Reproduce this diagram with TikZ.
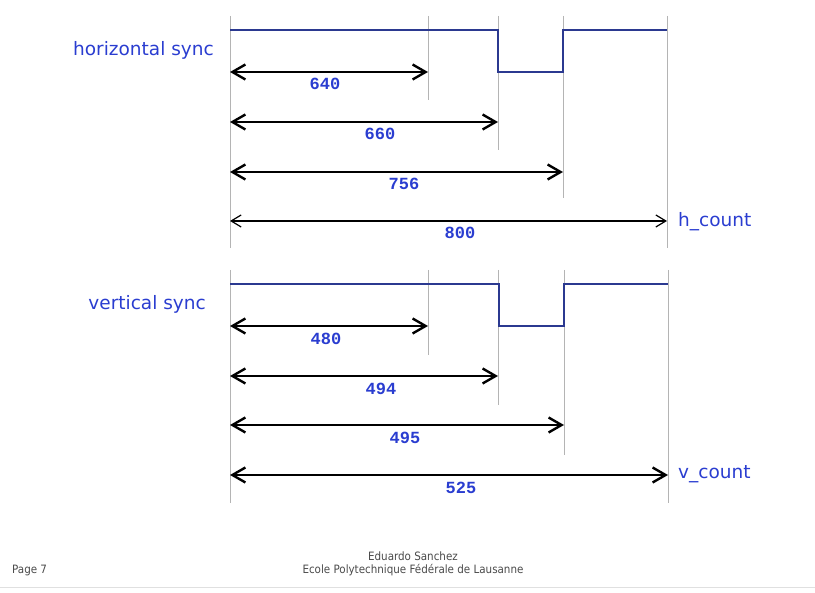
\documentclass[tikz,border=0pt]{standalone}
\usepackage{fontspec}
\setmainfont{DejaVu Sans}
\newfontfamily\numfont{Liberation Mono}
\newfontfamily\footfont{DejaVu Sans Condensed}
\usetikzlibrary{arrows.meta}
\definecolor{sig}{HTML}{2B3990}
\definecolor{lbl}{HTML}{2A3DD0}
\definecolor{grid}{HTML}{B4B4B4}
\definecolor{foot}{HTML}{4A4A4A}
\tikzset{
  guide/.style={draw=grid, line width=1pt},
  signal/.style={draw=sig, line width=2.2pt},
  dimarrow/.style={draw=black, line width=2.6pt, {Straight Barb[length=13pt,width=15pt,line width=2.4pt]}-{Straight Barb[length=13pt,width=15pt,line width=2.4pt]}},
  thindim/.style={draw=black, line width=1.2pt, {Straight Barb[length=10pt,width=12pt,line width=1.2pt]}-{Straight Barb[length=10pt,width=12pt,line width=1.2pt]}},
  numlabel/.style={text=lbl, font=\numfont\bfseries\fontsize{17}{17}\selectfont, inner sep=0pt},
  siglabel/.style={text=lbl, font=\fontsize{18.5}{18.5}\selectfont, inner sep=0pt},
  footer/.style={text=foot, font=\footfont\fontsize{11.5}{13.5}\selectfont, inner sep=0pt, align=center}
}
\begin{document}
\begin{tikzpicture}[x=1pt,y=-1pt]
\useasboundingbox (0,0) rectangle (815,593);
% ---------- horizontal ----------
\coordinate (h0t) at (230,16); \coordinate (h0b) at (230,248);
\coordinate (h1t) at (428,16); \coordinate (h1b) at (428,100);
\coordinate (h2t) at (498,16); \coordinate (h2b) at (498,150);
\coordinate (h3t) at (563,16); \coordinate (h3b) at (563,198);
\coordinate (h4t) at (667,16); \coordinate (h4b) at (667,248);
\foreach \i in {0,...,4} \draw[guide] (h\i t) -- (h\i b);
\draw[signal] (230,30) -- (498,30) -- (498,72) -- (563,72) -- (563,30) -- (667,30);
\coordinate (ha1) at (230,72);  \coordinate (hb1) at (428,72);
\coordinate (ha2) at (230,122); \coordinate (hb2) at (498,122);
\coordinate (ha3) at (230,172); \coordinate (hb3) at (563,172);
\coordinate (ha4) at (230,221); \coordinate (hb4) at (667,221);
\draw[dimarrow] (ha1) -- (hb1);
\draw[dimarrow] (ha2) -- (hb2);
\draw[dimarrow] (ha3) -- (hb3);
\draw[thindim] (ha4) -- (hb4);
\node[numlabel] (n640) at (325,84) {640};
\node[numlabel] (n660) at (380,134) {660};
\node[numlabel] (n756) at (404,184) {756};
\node[numlabel] (n800) at (460,233) {800};
\node[siglabel, anchor=east] (hs) at (214,50) {horizontal sync};
\node[siglabel, anchor=west] (hc) at (678,222) {h\_count};
% ---------- vertical ----------
\coordinate (v0t) at (230,270); \coordinate (v0b) at (230,503);
\coordinate (v1t) at (428,270); \coordinate (v1b) at (428,355);
\coordinate (v2t) at (498,270); \coordinate (v2b) at (498,405);
\coordinate (v3t) at (564,270); \coordinate (v3b) at (564,455);
\coordinate (v4t) at (668,270); \coordinate (v4b) at (668,503);
\foreach \i in {0,...,4} \draw[guide] (v\i t) -- (v\i b);
\draw[signal] (230,284) -- (499,284) -- (499,326) -- (564,326) -- (564,284) -- (668,284);
\coordinate (va1) at (230,326); \coordinate (vb1) at (428,326);
\coordinate (va2) at (230,376); \coordinate (vb2) at (498,376);
\coordinate (va3) at (230,425); \coordinate (vb3) at (564,425);
\coordinate (va4) at (230,475); \coordinate (vb4) at (668,475);
\draw[dimarrow] (va1) -- (vb1);
\draw[dimarrow] (va2) -- (vb2);
\draw[dimarrow] (va3) -- (vb3);
\draw[dimarrow] (va4) -- (vb4);
\node[numlabel] (n480) at (326,339) {480};
\node[numlabel] (n494) at (381,389) {494};
\node[numlabel] (n495) at (405,438) {495};
\node[numlabel] (n525) at (461,488) {525};
\node[siglabel, anchor=east] (vs) at (206,304) {vertical sync};
\node[siglabel, anchor=west] (vc) at (678,474) {v\_count};
% ---------- footer ----------
\node[footer] (auth) at (413,564) {Eduardo Sanchez\\Ecole Polytechnique Fédérale de Lausanne};
\node[footer, anchor=west] (pg) at (12,571) {Page 7};
\draw[draw=black!12, line width=1pt] (0,588) -- (815,588);
\end{tikzpicture}
\end{document}
